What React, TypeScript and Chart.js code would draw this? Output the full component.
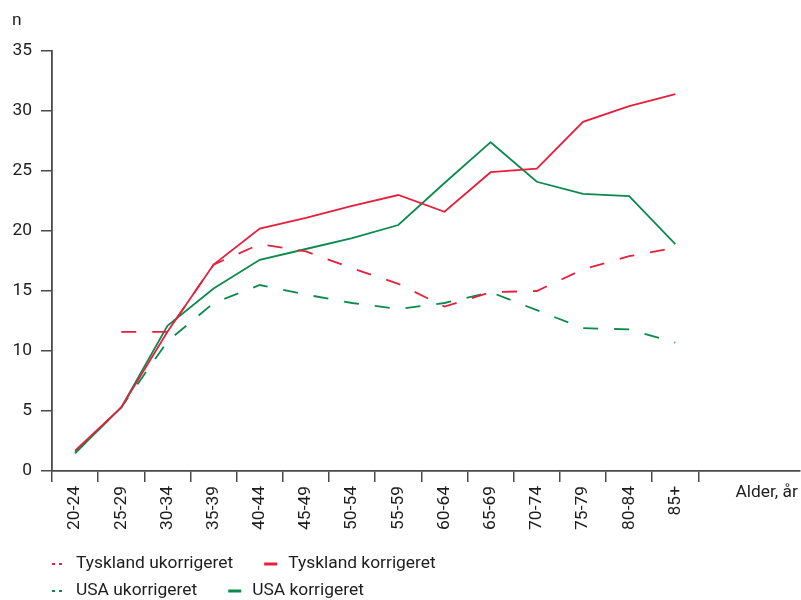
import React, { useEffect, useRef } from 'react';
import { Chart, registerables } from 'chart.js';

Chart.register(...registerables);

const categories = ['20-24', '25-29', '30-34', '35-39', '40-44', '45-49', '50-54', '55-59', '60-64', '65-69', '70-74', '75-79', '80-84', '85+'];
const tysklandUkorrigeret: (number | null)[] = [null, 11.6, 11.6, 17.2, 18.9, 18.3, 16.9, 15.6, 13.7, 14.9, 15.0, 16.8, 17.9, 18.6];
const tysklandKorrigeret = [1.7, 5.3, 11.6, 17.2, 20.2, 21.1, 22.1, 23.0, 21.6, 24.9, 25.2, 29.1, 30.4, 31.4];
const usaUkorrigeret = [1.5, 5.3, 10.8, 14.0, 15.5, 14.7, 14.0, 13.5, 14.0, 14.9, 13.4, 11.9, 11.8, 10.7];
const usaKorrigeret = [1.5, 5.3, 12.1, 15.2, 17.6, 18.5, 19.4, 20.5, 24.0, 27.4, 24.1, 23.1, 22.9, 18.9];
const yMin = 0;
const yMax = 35;
const yStep = 5;
const yAxisTitle = 'n';
const xAxisTitle = 'Alder, år';

const RED = '#e4203d';
const GREEN = '#0b8a4b';
const AXIS = '#4a4a4a';
const TEXT = '#1e1e1e';
const FONT_FAMILY = 'Roboto, "Noto Sans", sans-serif';
const FONT_SIZE = 17.4;
const DASH = [15, 16];

const toPoints = (vals: (number | null)[]) =>
  vals.map((v, i) => ({ x: i + 0.5, y: v }));

const annotatePlugin = {
  id: 'annotate',
  afterDraw(chart: any) {
    const ctx = chart.ctx as CanvasRenderingContext2D;
    const xs = chart.scales.x;
    const ys = chart.scales.y;
    const area = chart.chartArea;
    ctx.save();
    ctx.font = `${FONT_SIZE}px ${FONT_FAMILY}`;
    ctx.fillStyle = TEXT;
    // y-axis title
    ctx.textAlign = 'left';
    ctx.textBaseline = 'alphabetic';
    ctx.fillText(yAxisTitle, 12, ys.top - 26);
    // x-axis title
    ctx.textBaseline = 'middle';
    ctx.fillText(xAxisTitle, xs.getPixelForValue(categories.length) + 37, xs.top + 22);

    // legend: two items per row
    const ds = chart.data.datasets;
    const rowY = [area.bottom + 93, area.bottom + 120];
    for (let r = 0; r < 2; r++) {
      let x = area.left;
      for (let c = 0; c < 2; c++) {
        const d = ds[r * 2 + c];
        if (!d) continue;
        const y = rowY[r];
        ctx.save();
        ctx.strokeStyle = d.borderColor;
        if (d.borderDash && d.borderDash.length) {
          ctx.lineWidth = 2;
          ctx.setLineDash([3, 4]);
        } else {
          ctx.lineWidth = 3;
          ctx.setLineDash([]);
        }
        ctx.beginPath();
        ctx.moveTo(x, y);
        ctx.lineTo(x + 13, y);
        ctx.stroke();
        ctx.restore();
        const tx = x + 24;
        ctx.textAlign = 'left';
        ctx.textBaseline = 'middle';
        ctx.fillText(d.label, tx, y);
        x = tx + ctx.measureText(d.label).width + 31;
      }
    }
    ctx.restore();
  },
};

export default function App() {
  const canvasRef = useRef<HTMLCanvasElement | null>(null);

  useEffect(() => {
    const canvas = canvasRef.current;
    if (!canvas) return;
    const xTickValues: number[] = [];
    for (let i = 0; i <= categories.length * 2; i++) xTickValues.push(i / 2);

    const chart = new Chart(canvas, {
      type: 'line',
      data: {
        datasets: [
          {
            label: 'Tyskland ukorrigeret',
            data: toPoints(tysklandUkorrigeret) as any,
            borderColor: RED,
            borderWidth: 1.8,
            borderDash: DASH,
            pointRadius: 0,
            fill: false,
            tension: 0,
          },
          {
            label: 'Tyskland korrigeret',
            data: toPoints(tysklandKorrigeret) as any,
            borderColor: RED,
            borderWidth: 1.8,
            pointRadius: 0,
            fill: false,
            tension: 0,
          },
          {
            label: 'USA ukorrigeret',
            data: toPoints(usaUkorrigeret) as any,
            borderColor: GREEN,
            borderWidth: 1.8,
            borderDash: DASH,
            pointRadius: 0,
            fill: false,
            tension: 0,
          },
          {
            label: 'USA korrigeret',
            data: toPoints(usaKorrigeret) as any,
            borderColor: GREEN,
            borderWidth: 1.8,
            pointRadius: 0,
            fill: false,
            tension: 0,
          },
        ],
      },
      options: {
        animation: false,
        responsive: false,
        maintainAspectRatio: false,
        layout: { padding: { top: 51, left: 0, right: 1, bottom: 59 } },
        plugins: {
          legend: { display: false },
          tooltip: { enabled: false },
          title: { display: false },
        },
        scales: {
          x: {
            type: 'linear',
            min: 0,
            max: 16.2,
            afterBuildTicks: (scale: any) => {
              scale.ticks = xTickValues.map((v) => ({ value: v }));
            },
            afterFit: (scale: any) => {
              scale.height = 70;
            },
            ticks: {
              autoSkip: false,
              minRotation: 90,
              maxRotation: 90,
              padding: 4,
              color: TEXT,
              font: { family: FONT_FAMILY, size: FONT_SIZE },
              callback: (value: any) => {
                const v = Number(value);
                if (Math.abs(v - Math.floor(v) - 0.5) < 0.01) {
                  return categories[Math.floor(v)] ?? '';
                }
                return '';
              },
            },
            grid: {
              display: true,
              drawOnChartArea: false,
              drawTicks: true,
              tickLength: 11,
              lineWidth: 1.5,
              color: (ctx: any) => {
                const v = ctx.tick ? ctx.tick.value : 0;
                return Math.abs(v - Math.round(v)) < 0.01 ? AXIS : 'rgba(0,0,0,0)';
              },
            },
            border: { display: true, color: AXIS, width: 1.8 },
          },
          y: {
            type: 'linear',
            min: yMin,
            max: yMax,
            afterFit: (scale: any) => {
              scale.width = 52;
            },
            ticks: {
              stepSize: yStep,
              padding: 9,
              color: TEXT,
              font: { family: FONT_FAMILY, size: FONT_SIZE },
            },
            grid: {
              display: true,
              drawOnChartArea: false,
              drawTicks: true,
              tickLength: 11,
              lineWidth: 1.5,
              color: AXIS,
            },
            border: { display: true, color: AXIS, width: 1.8 },
          },
        },
      },
      plugins: [annotatePlugin],
    } as any);

    return () => {
      chart.destroy();
    };
  }, []);

  return (
    <div style={{ position: 'absolute', left: 0, top: 0, width: 801, height: 600, background: '#ffffff' }}>
      <canvas ref={canvasRef} width={801} height={600} style={{ display: 'block', width: 801, height: 600 }} />
    </div>
  );
}
